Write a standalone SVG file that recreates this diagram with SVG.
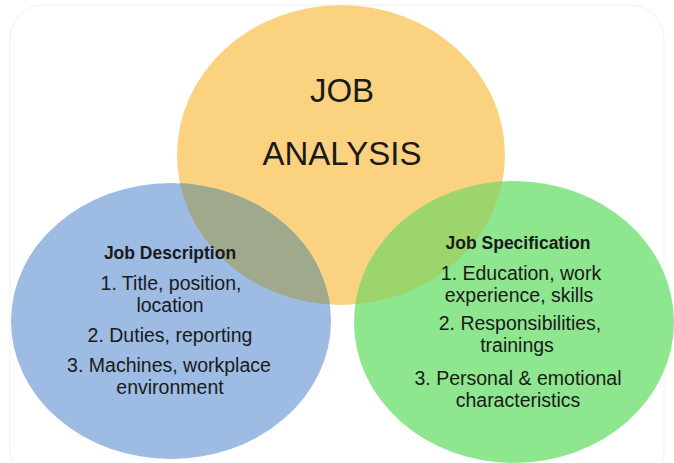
<svg xmlns="http://www.w3.org/2000/svg" width="674" height="463" viewBox="0 0 674 463">
  <style>
    .t { font-family: "Liberation Sans", Arial, sans-serif; text-anchor: middle; fill: #1a1a1a; }
    .title { font-size: 33px; }
    .head { font-size: 17.5px; font-weight: bold; }
    .body { font-size: 19.5px; }
  </style>
  <defs>
    <clipPath id="clipOrange">
      <ellipse cx="341" cy="155" rx="164" ry="150"/>
    </clipPath>
  </defs>
  <rect width="674" height="463" fill="#ffffff"/>
  <rect x="10" y="5" width="654" height="480" rx="34" ry="34" fill="none" stroke="#f1f1f1" stroke-width="1"/>

  <g id="job-analysis">
    <ellipse cx="341" cy="155" rx="164" ry="150" fill="#FBD27F"/>
  </g>

  <g id="job-description">
    <ellipse cx="171" cy="321" rx="160" ry="138" fill="#9DBBE3"/>
    <ellipse cx="171" cy="321" rx="160" ry="138" fill="#A0A98C" clip-path="url(#clipOrange)"/>
  </g>

  <g id="job-specification">
    <ellipse cx="514" cy="322" rx="160" ry="141" fill="#8EE68F"/>
    <ellipse cx="514" cy="322" rx="160" ry="141" fill="#9DD56D" clip-path="url(#clipOrange)"/>
  </g>

  <g id="labels-top">
    <text class="t title" x="342" y="102">JOB</text>
    <text class="t title" x="342" y="165">ANALYSIS</text>
  </g>

  <g id="labels-left">
    <text class="t head" x="170" y="259">Job Description</text>
    <text class="t body" x="171" y="290">1. Title, position,</text>
    <text class="t body" x="170" y="312">location</text>
    <text class="t body" x="170" y="342">2. Duties, reporting</text>
    <text class="t body" x="169" y="372">3. Machines, workplace</text>
    <text class="t body" x="170" y="394">environment</text>
  </g>

  <g id="labels-right">
    <text class="t head" x="518" y="249">Job Specification</text>
    <text class="t body" x="521" y="280">1. Education, work</text>
    <text class="t body" x="519" y="302">experience, skills</text>
    <text class="t body" x="520" y="330">2. Responsibilities,</text>
    <text class="t body" x="517" y="352">trainings</text>
    <text class="t body" x="518" y="385">3. Personal &amp; emotional</text>
    <text class="t body" x="518" y="407">characteristics</text>
  </g>

  <g id="connectors"></g>
</svg>
